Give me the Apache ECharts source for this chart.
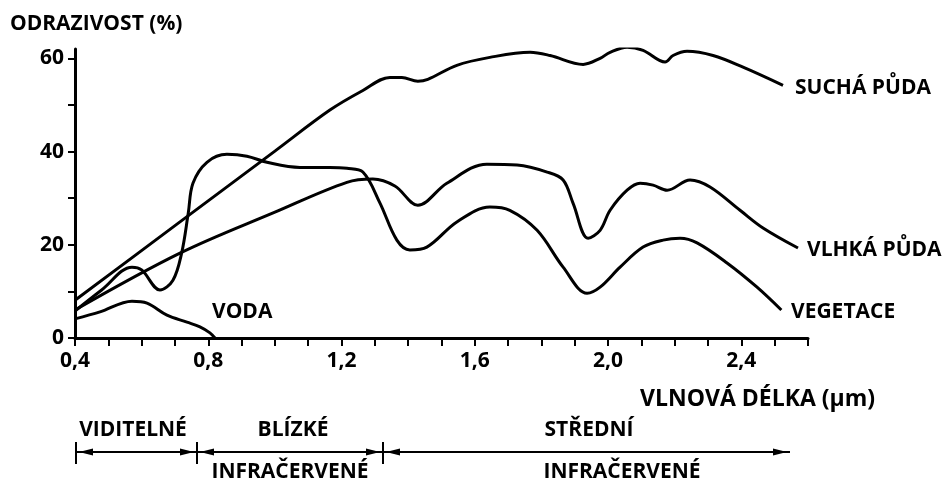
<!DOCTYPE html>
<html><head><meta charset="utf-8">
<script src="https://cdn.jsdelivr.net/npm/echarts@6/dist/echarts.min.js"></script>
<style>html,body{margin:0;padding:0;background:#fff}#c{width:946px;height:484px}</style>
</head><body><div id="c"></div>
<script>
// Tick values
const xTickValues = [0.4,0.5,0.6,0.7,0.8,0.9,1.0,1.1,1.2,1.3,1.4,1.5,1.6,1.7,1.8,1.9,2.0,2.1,2.2,2.3,2.4,2.5,2.6];
const xLabelValues = [0.4,0.8,1.2,1.6,2.0,2.4];
const yTickValues = [0,10,20,30,40,50,60];
const yLabelValues = [0,20,40,60];

// Suchá půda (dry soil)
const suchaX = [0.4,0.7,1.0,1.165,1.264,1.345,1.381,1.429,1.459,1.546,1.645,1.766,1.826,1.925,1.976,2.006,2.057,2.105,2.171,2.195,2.237,2.315,2.405,2.525];
const suchaY = [8.1,24.1,40.1,48.9,53.1,55.9,55.9,55.1,55.5,58.5,60.2,61.3,60.6,58.7,60.0,61.3,62.4,61.7,59.2,60.6,61.5,60.6,58.1,54.2];

// Vlhká půda (wet soil)
const vlhkaX = [0.4,0.715,1.0,1.216,1.294,1.36,1.429,1.516,1.636,1.727,1.817,1.865,1.895,1.94,1.976,2.006,2.057,2.096,2.135,2.177,2.246,2.306,2.396,2.465,2.57];
const vlhkaY = [6.0,18.2,27.0,33.4,34.1,32.6,28.5,33.2,37.3,37.1,35.6,33.9,28.9,21.4,23.1,27.4,31.7,33.2,32.8,31.7,33.9,32.4,27.4,23.6,19.3];

// Vegetace (vegetation)
const vegetaceX = [0.4,0.48,0.571,0.6,0.655,0.694,0.72,0.74,0.754,0.796,0.856,0.916,0.976,1.075,1.165,1.216,1.264,1.315,1.366,1.405,1.456,1.546,1.645,1.705,1.787,1.865,1.937,1.976,2.036,2.105,2.165,2.216,2.267,2.357,2.447,2.52];
const vegetaceY = [5.8,10.3,15.2,14.6,10.3,12.4,18.2,26.8,33.2,37.7,39.4,39.0,37.7,36.6,36.6,36.4,35.6,29.0,21.0,18.9,19.5,24.9,28.1,27.4,23.1,15.2,9.6,10.9,15.2,19.5,21.0,21.4,20.4,16.1,10.9,6.0];

// Voda (water)
const vodaX = [0.4,0.475,0.571,0.616,0.676,0.736,0.775,0.805,0.82];
const vodaY = [4.1,5.6,7.9,7.5,4.9,3.4,2.4,1.1,0];

const pairs = (xs, ys) => xs.map((x, i) => [x, ys[i]]);
const FONT = '"Open Sans"';
const txt = (text, x, y, size, align) => ({
  type: 'text', x: x, y: y,
  style: { text: text, fill: '#000', font: 'bold ' + size + 'px ' + FONT, textAlign: align || 'left', textVerticalAlign: 'middle' }
});
const ARROW_Y = 452;
const seg = (x1, x2) => [
  { type: 'line', shape: { x1: x1, y1: ARROW_Y, x2: x2, y2: ARROW_Y }, style: { stroke: '#000', lineWidth: 2 } },
  { type: 'polygon', shape: { points: [[x1 + 3, ARROW_Y], [x1 + 17, ARROW_Y - 3.5], [x1 + 17, ARROW_Y + 3.5]] }, style: { fill: '#000' } },
  { type: 'polygon', shape: { points: [[x2 - 3, ARROW_Y], [x2 - 17, ARROW_Y - 3.5], [x2 - 17, ARROW_Y + 3.5]] }, style: { fill: '#000' } }
];
const bar = (x) => ({ type: 'line', shape: { x1: x, y1: 442, x2: x, y2: 464 }, style: { stroke: '#000', lineWidth: 2 } });

const lineSeries = (name, data) => ({
  name: name, type: 'line', data: data, smooth: 0.35, showSymbol: false, silent: true,
  lineStyle: { color: '#000', width: 3 }, z: 3
});

const chart = echarts.init(document.getElementById('c'), null, { renderer: 'canvas' });
chart.setOption({
  animation: false,
  backgroundColor: '#fff',
  grid: { left: 75, top: 49, width: 733, height: 289, containLabel: false },
  xAxis: {
    type: 'value', min: 0.4, max: 2.6,
    axisLine: { show: true, onZero: false, lineStyle: { color: '#000', width: 3 } },
    axisTick: { show: true, inside: false, length: 8, customValues: xTickValues, lineStyle: { color: '#000', width: 2 } },
    axisLabel: { customValues: xLabelValues, margin: 13, color: '#000', fontFamily: 'Open Sans', fontWeight: 'bold', fontSize: 21,
      formatter: v => v.toFixed(1).replace('.', ',') },
    splitLine: { show: false }
  },
  yAxis: {
    type: 'value', min: 0, max: 62,
    axisLine: { show: true, onZero: false, lineStyle: { color: '#000', width: 3 } },
    axisTick: { show: true, inside: false, length: 7, customValues: yTickValues, lineStyle: { color: '#000', width: 2 } },
    axisLabel: { customValues: yLabelValues, margin: 11, color: '#000', fontFamily: 'Open Sans', fontWeight: 'bold', fontSize: 21 },
    splitLine: { show: false }
  },
  series: [
    lineSeries('SUCHÁ PŮDA', pairs(suchaX, suchaY)),
    lineSeries('VLHKÁ PŮDA', pairs(vlhkaX, vlhkaY)),
    lineSeries('VEGETACE', pairs(vegetaceX, vegetaceY)),
    lineSeries('VODA', pairs(vodaX, vodaY))
  ],
  graphic: [
    txt('ODRAZIVOST (%)', 10, 24, 21),
    txt('VODA', 212, 312, 21),
    txt('SUCHÁ PŮDA', 795, 88, 21),
    txt('VLHKÁ PŮDA', 807, 250, 21),
    txt('VEGETACE', 791, 312, 21),
    txt('VLNOVÁ DÉLKA (μm)', 640, 399, 23),
    txt('VIDITELNÉ', 133, 430, 21, 'center'),
    txt('BLÍZKÉ', 293, 430, 21, 'center'),
    txt('INFRAČERVENÉ', 290, 472, 21, 'center'),
    txt('STŘEDNÍ', 589, 430, 21, 'center'),
    txt('INFRAČERVENÉ', 622, 472, 21, 'center'),
    bar(76), bar(197), bar(383),
    ...seg(76, 197), ...seg(197, 383), ...seg(383, 790)
  ]
});
</script></body></html>
